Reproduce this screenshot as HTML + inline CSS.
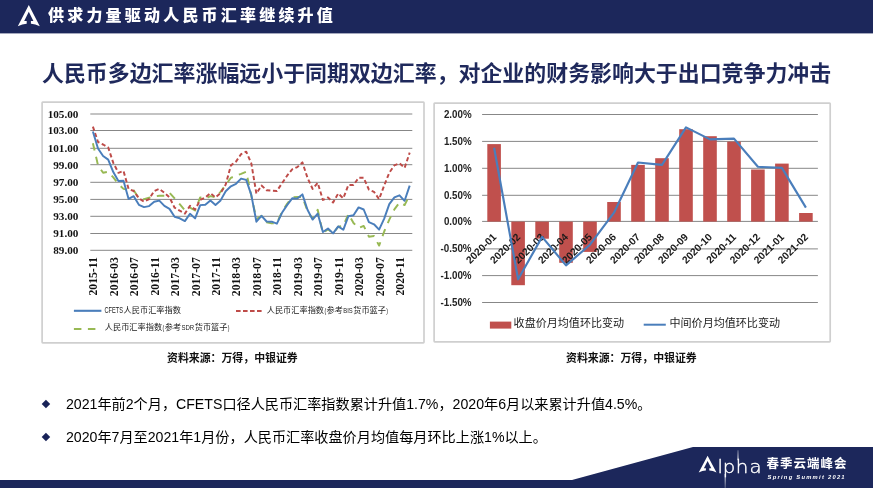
<!DOCTYPE html>
<html lang="zh-CN">
<head>
<meta charset="utf-8">
<title>供求力量驱动人民币汇率继续升值</title>
<style>
html,body{margin:0;padding:0;}
body{width:873px;height:488px;position:relative;overflow:hidden;background:#fff;font-family:"Liberation Sans","Noto Sans CJK SC",sans-serif;}
.abs{position:absolute;white-space:nowrap;}
body>*{will-change:transform;}
#hdrt{left:48.2px;top:4.4px;font-size:16px;line-height:24px;font-weight:900;color:#fff;letter-spacing:3.2px;}
#h1{left:42.4px;top:58.3px;font-size:21.93px;line-height:32px;font-weight:bold;color:#1f295c;}
.src{font-size:10.9px;line-height:14px;font-weight:bold;color:#111;top:351.4px;}
.bl{font-size:14.15px;line-height:20px;color:#000;left:66.1px;}
.dm{width:5.9px;height:5.9px;background:#182258;transform:rotate(45deg);left:43.1px;}
</style>
</head>
<body>
<svg class="abs" style="left:0;top:0" width="873" height="36" viewBox="0 0 873 36"><rect x="0" y="0" width="873" height="33.4" fill="#1c275b"/><path d="M28.80 5.00 L39.80 26.30 Q35.00 23.60 30.90 23.70 L30.90 20.90 L33.40 20.90 L28.80 11.80 L24.20 20.90 L26.70 20.90 L26.70 23.70 Q22.60 23.60 17.80 26.30 Z" fill="#fff"/></svg>
<div id="hdrt" class="abs">供求力量驱动人民币汇率继续升值</div>
<div id="h1" class="abs">人民币多边汇率涨幅远小于同期双边汇率，对企业的财务影响大于出口竞争力冲击</div>
<svg width="873" height="488" viewBox="0 0 873 488" style="position:absolute;left:0;top:0">
<rect x="42.1" y="102.1" width="381.9" height="240.7" rx="0.7" fill="#fff" stroke="#cfcfcf" stroke-width="1.7"/>
<rect x="434.1" y="103.1" width="396.1" height="238.7" rx="0.7" fill="#fff" stroke="#cfcfcf" stroke-width="1.7"/>
<g stroke="#878787" stroke-width="1">
<line x1="90.3" y1="114.0" x2="412.3" y2="114.0"/>
<line x1="90.3" y1="130.5" x2="412.3" y2="130.5"/>
<line x1="90.3" y1="148.3" x2="412.3" y2="148.3"/>
<line x1="90.3" y1="164.7" x2="412.3" y2="164.7"/>
<line x1="90.3" y1="182.3" x2="412.3" y2="182.3"/>
<line x1="90.3" y1="199.4" x2="412.3" y2="199.4"/>
<line x1="90.3" y1="216.3" x2="412.3" y2="216.3"/>
<line x1="90.3" y1="233.5" x2="412.3" y2="233.5"/>
<line x1="90.3" y1="250.3" x2="412.3" y2="250.3"/>
</g>
<g font-family="'Liberation Serif', serif" font-weight="bold" font-size="11.2" fill="#111" text-anchor="end">
<text x="78.4" y="117.8">105.00</text>
<text x="78.4" y="134.3">103.00</text>
<text x="78.4" y="152.1">101.00</text>
<text x="78.4" y="168.5">99.00</text>
<text x="78.4" y="186.1">97.00</text>
<text x="78.4" y="203.2">95.00</text>
<text x="78.4" y="220.1">93.00</text>
<text x="78.4" y="237.3">91.00</text>
<text x="78.4" y="254.1">89.00</text>
</g>
<g font-family="'Liberation Serif', serif" font-weight="bold" font-size="11.7" fill="#111" text-anchor="end">
<text transform="translate(97.3,257.2) rotate(-90)">2015-11</text>
<text transform="translate(117.7,257.2) rotate(-90)">2016-03</text>
<text transform="translate(138.1,257.2) rotate(-90)">2016-07</text>
<text transform="translate(158.6,257.2) rotate(-90)">2016-11</text>
<text transform="translate(179.0,257.2) rotate(-90)">2017-03</text>
<text transform="translate(199.5,257.2) rotate(-90)">2017-07</text>
<text transform="translate(219.9,257.2) rotate(-90)">2017-11</text>
<text transform="translate(240.4,257.2) rotate(-90)">2018-03</text>
<text transform="translate(260.8,257.2) rotate(-90)">2018-07</text>
<text transform="translate(281.3,257.2) rotate(-90)">2018-11</text>
<text transform="translate(301.7,257.2) rotate(-90)">2019-03</text>
<text transform="translate(322.1,257.2) rotate(-90)">2019-07</text>
<text transform="translate(342.6,257.2) rotate(-90)">2019-11</text>
<text transform="translate(363.0,257.2) rotate(-90)">2020-03</text>
<text transform="translate(383.5,257.2) rotate(-90)">2020-07</text>
<text transform="translate(403.9,257.2) rotate(-90)">2020-11</text>
</g>
<polyline fill="none" stroke="#98b954" stroke-width="1.95" stroke-dasharray="7.5,6.5" stroke-linejoin="round" points="92.9,143.2 98.0,165.3 103.1,172.7 108.2,171.8 113.3,177.4 118.4,184.1 123.5,188.9 128.6,189.7 133.7,190.3 138.9,198.3 144.0,199.1 149.1,197.8 154.2,196.6 159.3,195.7 164.4,195.7 169.5,192.8 174.6,198.3 179.7,204.2 184.9,210.2 190.0,207.7 195.1,210.5 200.2,197.4 205.3,198.6 210.4,196.1 215.5,197.4 220.6,191.8 225.7,185.0 230.9,177.8 236.0,175.7 241.1,173.9 246.2,171.8 251.3,195.7 256.4,219.0 261.5,215.9 266.6,222.2 271.7,223.4 276.9,223.0 282.0,211.9 287.1,203.8 292.2,197.4 297.3,196.9 302.4,196.9 307.5,211.1 312.6,218.7 317.7,209.8 322.9,233.2 328.0,229.2 333.1,233.2 338.2,226.8 343.3,225.9 348.4,213.9 353.5,223.0 358.6,228.1 363.7,225.9 368.9,236.7 374.0,236.0 379.1,245.6 384.2,231.5 389.3,219.6 394.4,209.4 399.5,202.5 404.6,205.1 409.7,194.9"/>
<polyline fill="none" stroke="#be4b48" stroke-width="1.95" stroke-dasharray="4.2,2.6" stroke-linejoin="round" points="92.9,126.6 98.0,142.0 103.1,144.5 108.2,147.5 113.3,162.9 118.4,172.8 123.5,171.0 128.6,188.9 133.7,191.0 138.9,198.3 144.0,201.7 149.1,199.1 154.2,191.0 159.3,188.9 164.4,192.8 169.5,197.4 174.6,207.7 179.7,210.7 184.9,213.6 190.0,205.9 195.1,209.5 200.2,200.0 205.3,197.4 210.4,193.1 215.5,197.4 220.6,193.1 225.7,184.6 230.9,165.4 236.0,161.6 241.1,154.1 246.2,151.7 251.3,163.3 256.4,193.6 261.5,185.5 266.6,190.2 271.7,190.6 276.9,191.0 282.0,183.3 287.1,175.7 292.2,169.3 297.3,167.1 302.4,162.4 307.5,177.8 312.6,188.9 317.7,182.9 322.9,200.0 328.0,197.4 333.1,202.5 338.2,193.5 343.3,198.3 348.4,185.0 353.5,185.0 358.6,177.8 363.7,177.8 368.9,189.7 374.0,191.9 379.1,199.1 384.2,185.5 389.3,172.7 394.4,165.4 399.5,163.3 404.6,167.9 409.7,152.6"/>
<polyline fill="none" stroke="#4a7ebb" stroke-width="1.95" stroke-linejoin="round" points="92.9,131.5 98.0,148.5 103.1,156.0 108.2,159.6 113.3,172.1 118.4,181.0 123.5,180.8 128.6,198.9 133.7,196.2 138.9,204.8 144.0,207.1 149.1,206.1 154.2,201.8 159.3,200.6 164.4,205.9 169.5,208.9 174.6,216.8 179.7,218.3 184.9,221.1 190.0,213.7 195.1,218.4 200.2,205.1 205.3,204.7 210.4,200.5 215.5,204.9 220.6,200.4 225.7,191.2 230.9,186.3 236.0,183.8 241.1,178.6 246.2,179.9 251.3,194.9 256.4,221.7 261.5,215.8 266.6,221.5 271.7,221.7 276.9,223.7 282.0,212.8 287.1,205.1 292.2,198.3 297.3,198.6 302.4,194.4 307.5,209.8 312.6,219.6 317.7,213.6 322.9,232.0 328.0,228.5 333.1,233.4 338.2,226.4 343.3,229.8 348.4,216.2 353.5,215.3 358.6,207.4 363.7,209.5 368.9,222.2 374.0,224.3 379.1,229.6 384.2,218.6 389.3,204.2 394.4,197.4 399.5,195.3 404.6,200.8 409.7,185.6"/>
<line x1="73.9" y1="310.8" x2="101.4" y2="310.8" stroke="#4a7ebb" stroke-width="2.1"/>
<line x1="236" y1="311" x2="264" y2="311" stroke="#be4b48" stroke-width="2" stroke-dasharray="4.6,2.4"/>
<line x1="73.9" y1="329" x2="96" y2="329" stroke="#98b954" stroke-width="2" stroke-dasharray="7.5,6.5"/>
<g font-family="'Liberation Sans', 'Noto Sans CJK SC', sans-serif" fill="#222">
<text x="104.4" y="312.5" font-size="8.8" textLength="18.7" lengthAdjust="spacingAndGlyphs">CFETS</text>
<text x="123.6" y="312.7" font-size="8.2">人民币汇率指数</text>
</g>
<g font-family="'Liberation Sans', 'Noto Sans CJK SC', sans-serif" fill="#222">
<text x="266.7" y="313.2" font-size="8.2">人民币汇率指数</text>
<text x="324.4" y="313.0" font-size="8.0" textLength="1.7" lengthAdjust="spacingAndGlyphs">(</text>
<text x="326.6" y="313.2" font-size="8.2">参考</text>
<text x="343.3" y="313.0" font-size="7.8" textLength="9.4" lengthAdjust="spacingAndGlyphs">BIS</text>
<text x="353.2" y="313.2" font-size="8.2">货币篮子</text>
<text x="386.3" y="313.0" font-size="8.0" textLength="1.7" lengthAdjust="spacingAndGlyphs">)</text>
</g>
<g font-family="'Liberation Sans', 'Noto Sans CJK SC', sans-serif" fill="#222">
<text x="104.8" y="329.7" font-size="8.2">人民币汇率指数</text>
<text x="162.5" y="329.5" font-size="8.0" textLength="1.7" lengthAdjust="spacingAndGlyphs">(</text>
<text x="164.7" y="329.7" font-size="8.2">参考</text>
<text x="181.4" y="329.5" font-size="7.8" textLength="12.8" lengthAdjust="spacingAndGlyphs">SDR</text>
<text x="194.7" y="329.7" font-size="8.2">货币篮子</text>
<text x="227.8" y="329.5" font-size="8.0" textLength="1.7" lengthAdjust="spacingAndGlyphs">)</text>
</g>
<g stroke="#878787" stroke-width="1">
<line x1="482.1" y1="114.5" x2="817.9" y2="114.5"/>
<line x1="482.1" y1="141.4" x2="817.9" y2="141.4"/>
<line x1="482.1" y1="168.3" x2="817.9" y2="168.3"/>
<line x1="482.1" y1="195.3" x2="817.9" y2="195.3"/>
<line x1="482.1" y1="221.4" x2="817.9" y2="221.4"/>
<line x1="482.1" y1="248.9" x2="817.9" y2="248.9"/>
<line x1="482.1" y1="275.6" x2="817.9" y2="275.6"/>
<line x1="482.1" y1="302.5" x2="817.9" y2="302.5"/>
</g>
<g font-family="'Liberation Sans', sans-serif" font-weight="bold" font-size="10.8" fill="#222">
<text x="443.9" y="117.7" textLength="27.7" lengthAdjust="spacingAndGlyphs">2.00%</text>
<text x="443.9" y="144.6" textLength="27.7" lengthAdjust="spacingAndGlyphs">1.50%</text>
<text x="443.9" y="171.5" textLength="27.7" lengthAdjust="spacingAndGlyphs">1.00%</text>
<text x="443.9" y="198.5" textLength="27.7" lengthAdjust="spacingAndGlyphs">0.50%</text>
<text x="443.9" y="224.6" textLength="27.7" lengthAdjust="spacingAndGlyphs">0.00%</text>
<text x="440.5" y="252.1" textLength="31.1" lengthAdjust="spacingAndGlyphs">-0.50%</text>
<text x="440.5" y="278.8" textLength="31.1" lengthAdjust="spacingAndGlyphs">-1.00%</text>
<text x="440.5" y="305.7" textLength="31.1" lengthAdjust="spacingAndGlyphs">-1.50%</text>
</g>
<g fill="#c0504d">
<rect x="487.3" y="144.1" width="13.6" height="77.5"/>
<rect x="511.3" y="221.6" width="13.6" height="63.6"/>
<rect x="535.3" y="221.6" width="13.6" height="17.1"/>
<rect x="559.2" y="221.6" width="13.6" height="41.2"/>
<rect x="583.2" y="221.6" width="13.6" height="30.3"/>
<rect x="607.2" y="202.0" width="13.6" height="19.6"/>
<rect x="631.2" y="164.9" width="13.6" height="56.7"/>
<rect x="655.2" y="158.2" width="13.6" height="63.4"/>
<rect x="679.2" y="129.2" width="13.6" height="92.4"/>
<rect x="703.2" y="136.2" width="13.6" height="85.4"/>
<rect x="727.2" y="141.6" width="13.6" height="80.0"/>
<rect x="751.1" y="169.5" width="13.6" height="52.1"/>
<rect x="775.1" y="163.6" width="13.6" height="58.0"/>
<rect x="799.1" y="213.0" width="13.6" height="8.6"/>
</g>
<g font-family="'Liberation Sans', sans-serif" font-weight="bold" font-size="10.3" fill="#1a1a1a" text-anchor="end">
<text transform="translate(497.0,237.6) rotate(-45)">2020-01</text>
<text transform="translate(521.0,237.6) rotate(-45)">2020-02</text>
<text transform="translate(545.0,237.6) rotate(-45)">2020-03</text>
<text transform="translate(568.9,237.6) rotate(-45)">2020-04</text>
<text transform="translate(592.9,237.6) rotate(-45)">2020-05</text>
<text transform="translate(616.9,237.6) rotate(-45)">2020-06</text>
<text transform="translate(640.9,237.6) rotate(-45)">2020-07</text>
<text transform="translate(664.9,237.6) rotate(-45)">2020-08</text>
<text transform="translate(688.9,237.6) rotate(-45)">2020-09</text>
<text transform="translate(712.9,237.6) rotate(-45)">2020-10</text>
<text transform="translate(736.9,237.6) rotate(-45)">2020-11</text>
<text transform="translate(760.8,237.6) rotate(-45)">2020-12</text>
<text transform="translate(784.8,237.6) rotate(-45)">2021-01</text>
<text transform="translate(808.8,237.6) rotate(-45)">2021-02</text>
</g>
<polyline fill="none" stroke="#4a7ebb" stroke-width="2.15" stroke-linejoin="round" points="494.1,147.8 518.1,279.3 542.1,236.9 566.0,265.4 590.0,244.7 614.0,212.7 638.0,162.5 662.0,164.9 686.0,127.4 710.0,139.4 734.0,138.6 757.9,166.8 781.9,167.9 805.9,207.6"/>
<rect x="489.9" y="321.6" width="21.4" height="7" fill="#c0504d"/>
<line x1="643.7" y1="324.7" x2="665.8" y2="324.7" stroke="#4a7ebb" stroke-width="2"/>
<text x="513.6" y="326.8" font-family="'Liberation Sans', 'Noto Sans CJK SC', sans-serif" font-size="11.05" fill="#222">收盘价月均值环比变动</text>
<text x="669.5" y="326.8" font-family="'Liberation Sans', 'Noto Sans CJK SC', sans-serif" font-size="11.05" fill="#222">中间价月均值环比变动</text>
</svg>
<div class="abs src" style="left:167.1px">资料来源：万得，中银证券</div>
<div class="abs src" style="left:565.8px">资料来源：万得，中银证券</div>
<div class="abs dm" style="top:401.4px"></div>
<div class="abs bl" style="top:394px">2021年前2个月，CFETS口径人民币汇率指数累计升值1.7%，2020年6月以来累计升值4.5%。</div>
<div class="abs dm" style="top:433.8px"></div>
<div class="abs bl" style="top:426.7px">2020年7月至2021年1月份，人民币汇率收盘价月均值每月环比上涨1%以上。</div>
<svg class="abs" style="left:0;top:440px" width="873" height="48" viewBox="0 440 873 48">
<polygon points="0,480 572,480 693,447 873,447 873,488 0,488" fill="#1c275b"/>
<path d="M707.60 455.70 L716.50 472.60 Q712.62 470.46 709.30 470.54 L709.30 468.32 L711.32 468.32 L707.60 461.10 L703.88 468.32 L705.90 468.32 L705.90 470.54 Q702.58 470.46 698.70 472.60 Z" fill="#fff"/>
<defs><linearGradient id="fd" x1="0" y1="0" x2="0" y2="1"><stop offset="0" stop-color="#fff" stop-opacity="0.95"/><stop offset="1" stop-color="#fff" stop-opacity="0.25"/></linearGradient><linearGradient id="fu" x1="0" y1="1" x2="0" y2="0"><stop offset="0" stop-color="#fff" stop-opacity="0.95"/><stop offset="1" stop-color="#fff" stop-opacity="0.3"/></linearGradient></defs>
<rect x="724.65" y="474" width="1.1" height="14" fill="url(#fd)"/>
<rect x="737.45" y="450.2" width="1.1" height="10" fill="url(#fu)"/>
<g transform="scale(1.13,1)"><text x="634.9 639.59 651.01 663.26" y="472.6" font-family="'DejaVu Sans', 'Liberation Sans', sans-serif" font-weight="200" font-size="17.5" fill="#fff" stroke="#fff" stroke-width="0.35">lpha</text></g>
<text x="766.4" y="468.2" font-family="'Liberation Sans', 'Noto Sans CJK SC', sans-serif" font-weight="bold" font-size="12.5" fill="#fff" letter-spacing="1">春季云端峰会</text>
<text x="767.6" y="479.3" font-family="'Liberation Sans', sans-serif" font-weight="bold" font-style="italic" font-size="5.8" fill="#fff" letter-spacing="1.25">Spring Summit 2021</text>
</svg>
</body>
</html>
